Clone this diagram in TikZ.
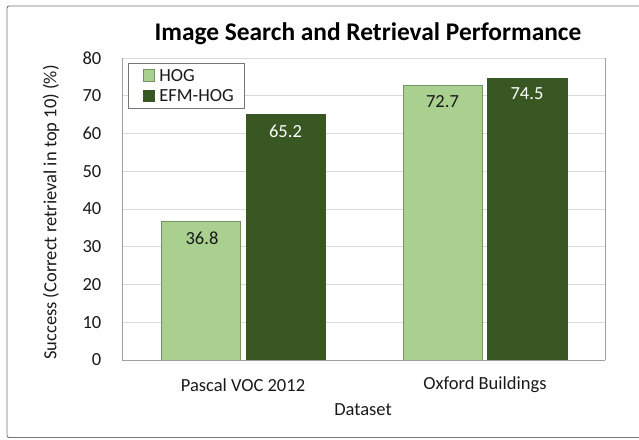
\documentclass[tikz,border=0pt]{standalone}
\usepackage{fontspec}
\setmainfont{Carlito}
\usetikzlibrary{positioning}
\definecolor{hoggreen}{RGB}{169,208,142}
\definecolor{efmgreen}{RGB}{56,87,35}
\definecolor{framegrey}{RGB}{118,118,118}
\definecolor{gridgrey}{RGB}{217,217,217}
\definecolor{axisgrey}{RGB}{160,160,160}
\definecolor{textdark}{RGB}{25,25,25}
\tikzset{
  base/.style={font=\fontsize{18.5}{22}\selectfont, inner sep=0pt, text=textdark},
  ticklbl/.style={base, anchor=east},
  titlelbl/.style={base, font=\fontsize{25.4}{30}\selectfont\bfseries, text=black},
  barhog/.style={draw=hoggreen!70!black, fill=hoggreen, line width=0.6pt},
  barefm/.style={draw=efmgreen, fill=efmgreen, line width=0.6pt},
  vallbl/.style={base},
  grid/.style={draw=gridgrey, line width=0.6pt},
  frame/.style={draw=framegrey, line width=0.9pt, rounded corners=2pt},
  legbox/.style={draw=framegrey, fill=white, line width=0.6pt},
}
% pixel grid of the reference, y measured upwards
\newcommand{\vy}[1]{79+3.775*#1}

\begin{document}
\begin{tikzpicture}[x=1pt,y=1pt]
  \useasboundingbox (0,0) rectangle (639,439);
  \draw[frame] (7,1.5) rectangle (650,433);
  \node[titlelbl] (title) at (368,405) {Image Search and Retrieval Performance};
  % plot area
  \foreach \v in {10,20,...,80}{\draw[grid] (122,{\vy{\v}}) -- (605,{\vy{\v}});}
  \draw[draw=axisgrey, line width=0.7pt] (605,{\vy{80}}) -- (605,79);
  \foreach \v in {0,10,...,80}{\node[ticklbl] (tick\v) at (101.5,{\vy{\v}}) {\v};}
  % bars
  \draw[barhog] (161,79) rectangle (240,{\vy{36.8}});
  \draw[barefm] (246,79) rectangle (325,{\vy{65.2}});
  \draw[barhog] (403,79) rectangle (482,{\vy{72.7}});
  \draw[barefm] (487,79) rectangle (567,{\vy{74.5}});
  \node[vallbl] (vpa) at (202,{\vy{36.8}-17}) {36.8};
  \node[vallbl, text=white] (vpb) at (285.5,{\vy{65.2}-17}) {65.2};
  \node[vallbl] (voa) at (442.5,{\vy{72.7}-16}) {72.7};
  \node[vallbl, text=white] (vob) at (527,{\vy{74.5}-15}) {74.5};
  \draw[draw=axisgrey, line width=0.9pt] (122,{\vy{80}}) -- (122,79) -- (605,79);
  % axes titles
  \node[base] (cpascal) at (243,54) {Pascal VOC 2012};
  \node[base] (coxford) at (485,54) {Oxford Buildings};
  \node[base] (xtitle) at (363,29) {Dataset};
  \node[base, rotate=90] (ytitle) at (51,226.5) {Success (Correct retrieval in top 10) (\%)};
  % legend
  \draw[legbox] (128,331) rectangle (244,376);
  \node[barhog, minimum size=11.5pt, inner sep=0pt] (khog) at (149,363.5) {};
  \node[barefm, minimum size=11.5pt, inner sep=0pt] (kefm) at (149,343) {};
  \node[base, anchor=west, right=4pt of khog] (lhog) {HOG};
  \node[base, anchor=west, right=4pt of kefm] (lefm) {EFM-HOG};
\end{tikzpicture}
\end{document}
